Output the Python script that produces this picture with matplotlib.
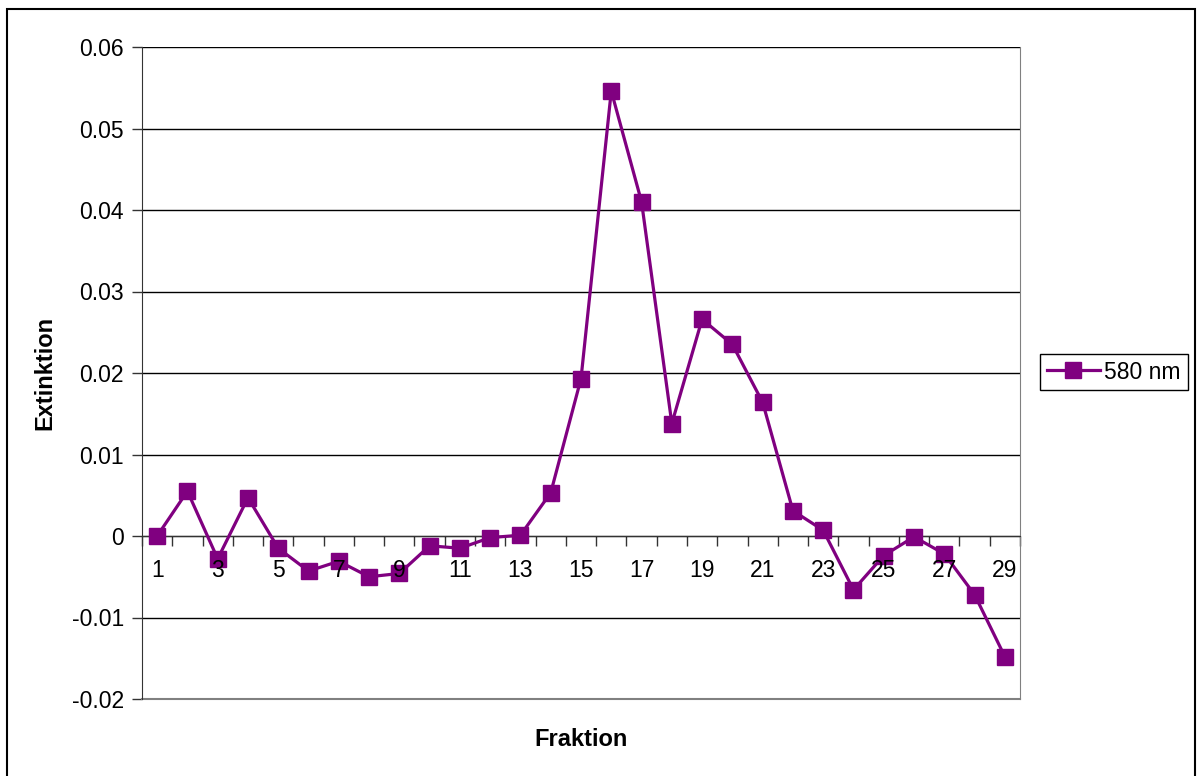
import matplotlib.pyplot as plt
from matplotlib.patches import Rectangle
from matplotlib.ticker import FixedLocator

# absorbance at 580 nm for each collected fraction
fractions = list(range(1, 30))
extinction_580 = [
    0.0, 0.0055, -0.0028, 0.0047, -0.0015, -0.0043, -0.0031, -0.0050, -0.0046,
    -0.0012, -0.0015, -0.0002, 0.0001, 0.0053, 0.0193, 0.0546, 0.0410, 0.0138,
    0.0266, 0.0235, 0.0164, 0.0031, 0.0007, -0.0066, -0.0024, -0.0001, -0.0022,
    -0.0072, -0.0148,
]
series_name = "580 nm"
y_ticks = [-0.02, -0.01, 0, 0.01, 0.02, 0.03, 0.04, 0.05, 0.06]
y_tick_labels = ['-0.02', '-0.01', '0', '0.01', '0.02', '0.03', '0.04', '0.05', '0.06']
labelled = fractions[::2]

plt.rcParams['font.family'] = ['Liberation Sans', 'DejaVu Sans']

W, H = 1198, 776
fig = plt.figure(figsize=(W / 100, H / 100), dpi=100)
ax = fig.add_axes([142 / W, 1 - 699 / H, (1020 - 142) / W, (699 - 47) / H])

purple = '#800080'
grey = '#808080'

ax.plot(fractions, extinction_580, color=purple, lw=2.3, marker='s',
        markersize=12, markeredgecolor=purple, label=series_name, zorder=3)

ax.set_xlim(0.5, len(fractions) + 0.5)
ax.set_ylim(-0.02, 0.06)

# y axis
ax.set_yticks(y_ticks)
ax.set_yticklabels(y_tick_labels)
ax.yaxis.grid(True, color='black', lw=1)
ax.set_axisbelow(True)
ax.tick_params(axis='y', direction='out', length=7, width=1, labelsize=16.5,
               pad=6, color='#333333')

# x axis crosses at zero; ticks between categories
ax.spines['bottom'].set_position(('data', 0))
ax.spines['bottom'].set_color('#333333')
ax.xaxis.set_major_locator(FixedLocator([i + 0.5 for i in range(len(fractions) + 1)]))
ax.set_xticklabels([])
ax.tick_params(axis='x', direction='out', length=7, width=1, color='#333333')

# category labels on odd fractions, drawn on top of the markers
for f in labelled:
    ax.annotate(str(f), xy=(f, 0), xytext=(0, -24.5), textcoords='offset points',
                ha='center', va='center', fontsize=16.5, zorder=5,
                annotation_clip=False)

ax.spines['left'].set_color('#333333')
ax.spines['top'].set_visible(False)
ax.spines['right'].set_color(grey)
ax.axhline(-0.02, color=grey, lw=1.5, clip_on=False)

fig.text(45 / W, 1 - 373 / H, "Extinktion", rotation=90, ha='center', va='center',
         fontsize=17, fontweight='bold')
fig.text(581 / W, 1 - 740 / H, "Fraktion", ha='center', va='center',
         fontsize=17, fontweight='bold')

leg = fig.legend(loc='center left', bbox_to_anchor=(1040 / W, 1 - 372 / H),
                 fontsize=16.5, fancybox=False, edgecolor='black', framealpha=1,
                 borderaxespad=0, handlelength=2.3, handletextpad=0.2,
                 borderpad=0.3)
leg.get_frame().set_linewidth(1)

# chart area border
fig.patches.append(Rectangle((7 / W, -0.01), (1195 - 7) / W, 1 - 9 / H + 0.01,
                             transform=fig.transFigure, fill=False,
                             edgecolor='black', lw=1.5))

fig.savefig("out.png", dpi=100)
